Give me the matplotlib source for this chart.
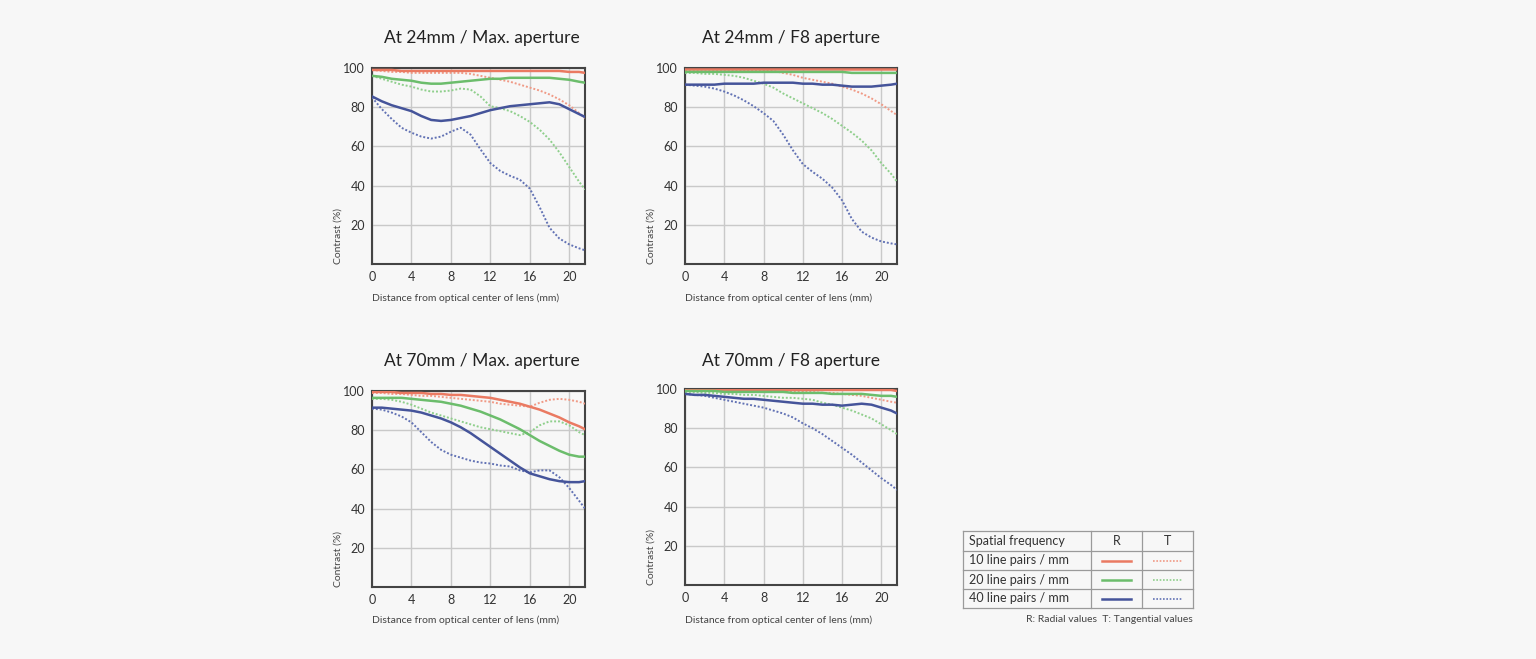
import matplotlib.pyplot as plt

plt.rcParams['font.family'] = ['Lato', 'DejaVu Sans']

W, H = 1536, 659
BG = '#f7f7f7'

# distance from optical center (mm)
dist = [0, 1, 2, 3, 4, 5, 6, 7, 8, 9, 10, 11, 12, 13, 14, 15, 16, 17, 18, 19, 20, 21, 21.6]

# At 24mm / Max. aperture
w24max_r10 = [99, 99, 99, 98.5, 98.5, 98.5, 98.5, 98.5, 98.5, 98.5, 98.5, 98.5, 98.5, 98.5, 98.5, 98.5, 98.5, 98.5, 98.5, 98.5, 98, 98, 97.5]
w24max_t10 = [99, 98.5, 98, 98, 97.5, 97.5, 97.5, 97.5, 97.5, 97.5, 97, 96, 95, 94, 93, 91.5, 90, 88.5, 86.5, 84, 81, 77, 74.5]
w24max_r20 = [96, 95.5, 94.5, 94, 93.5, 92.5, 92, 92, 92.5, 93, 93.5, 94, 94.5, 94.5, 95, 95, 95, 95, 95, 94.5, 94, 93, 92.5]
w24max_t20 = [96, 94.5, 93, 91.5, 90.5, 89, 88, 88, 88.5, 89.5, 89, 85.5, 80.5, 79.5, 78, 75.5, 72.5, 68.5, 63.5, 57, 49.5, 42, 38]
w24max_r40 = [85.5, 83, 81, 79.5, 78, 75.5, 73.5, 73, 73.5, 74.5, 75.5, 77, 78.5, 79.5, 80.5, 81, 81.5, 82, 82.5, 81.5, 79, 76.5, 75]
w24max_t40 = [85, 79, 74, 69.5, 67, 65, 64, 65, 67.5, 69.5, 66, 58.5, 51.5, 47.5, 45, 43, 38.5, 29, 18.5, 13, 10, 8, 7]

# At 24mm / F8 aperture
w24f8_r10 = [99.5] * 23
w24f8_t10 = [99, 99, 99, 99, 99, 99, 99, 99, 99, 98.5, 97.5, 96.5, 95, 94, 93, 92, 90.5, 89, 87, 84.5, 81.5, 78, 76]
w24f8_r20 = [98, 98, 98, 98, 98, 98, 98, 98, 98, 98, 98, 98, 98, 98, 98, 98, 98, 97.5, 97.5, 97.5, 97.5, 97.5, 97.5]
w24f8_t20 = [97.5, 97.5, 97, 97, 96.5, 96, 95, 93.5, 92, 90, 87, 84.5, 82, 79.5, 77, 74, 70.5, 67, 63, 58, 51.5, 46, 42]
w24f8_r40 = [91.5, 91.5, 91.5, 91.5, 92, 92, 92, 92, 92.5, 92.5, 92.5, 92.5, 92, 92, 91.5, 91.5, 91, 90.5, 90.5, 90.5, 91, 91.5, 92]
w24f8_t40 = [91.5, 91, 90.5, 89.5, 88, 86, 83.5, 80.5, 77, 73, 66, 58, 51, 47, 43.5, 39, 32.5, 23, 16.5, 13.5, 11.5, 10.5, 10]

# At 70mm / Max. aperture
t70max_r10 = [99.5, 99.5, 99.5, 99, 99, 99, 98.5, 98.5, 98, 98, 97.5, 97, 96.5, 95.5, 94.5, 93.5, 92, 90.5, 88.5, 86.5, 84, 82, 80.5]
t70max_t10 = [99, 99, 98.5, 98.5, 98, 97.5, 97.5, 97, 96.5, 96, 95.5, 95, 94.5, 93.5, 93, 92.5, 92, 94, 95.5, 96, 95.5, 94.5, 93.5]
t70max_r20 = [96.5, 96.5, 96.5, 96.5, 96, 95.5, 95, 94.5, 93.5, 92.5, 91, 89.5, 87.5, 85.5, 83, 80.5, 77.5, 74.5, 72, 69.5, 67.5, 66.5, 66.5]
t70max_t20 = [96, 96, 95.5, 94.5, 93, 91, 89, 87.5, 86, 84.5, 83, 81.5, 80.5, 79.5, 78.5, 77.5, 79, 82.5, 84.5, 84.5, 82.5, 79, 77.5]
t70max_r40 = [91.5, 91.5, 91, 90.5, 90, 89, 87.5, 86, 84, 81.5, 78.5, 75, 71.5, 68, 64.5, 61, 58, 56.5, 55, 54, 53.5, 53.5, 54]
t70max_t40 = [91, 90.5, 89, 87, 84, 79, 74, 70, 67.5, 66, 64.5, 63.5, 63, 62, 61.5, 59.5, 58.5, 59.5, 59.5, 56, 50.5, 44, 40]

# At 70mm / F8 aperture
t70f8_r10 = [99.5] * 22 + [99]
t70f8_t10 = [99.5, 99.5, 99.5, 99.5, 99.5, 99.5, 99.5, 99, 99, 99, 99, 98.5, 98.5, 98.5, 98, 98, 97.5, 97, 96.5, 95.5, 94.5, 93.5, 93]
t70f8_r20 = [99, 99, 99, 99, 98.5, 98.5, 98.5, 98.5, 98.5, 98.5, 98.5, 98, 98, 98, 98, 97.5, 97.5, 97.5, 97.5, 97, 96.5, 96.5, 96]
t70f8_t20 = [98.5, 98.5, 98, 98, 97.5, 97.5, 97, 97, 96.5, 96, 95.5, 95.5, 95, 94.5, 93, 92, 90.5, 89, 87, 85, 82, 79, 77]
t70f8_r40 = [97.5, 97, 97, 96.5, 96, 95.5, 95, 95, 94.5, 94, 93.5, 93, 92.5, 92.5, 92, 92, 91.5, 92, 92.5, 92, 90.5, 89, 87.5]
t70f8_t40 = [97.5, 97, 96.5, 95.5, 94.5, 93.5, 92.5, 91.5, 90.5, 89, 87.5, 85.5, 82.5, 80, 77, 73.5, 70, 66.5, 62.5, 58.5, 54.5, 51, 48.5]

titles = ['At 24mm / Max. aperture', 'At 24mm / F8 aperture',
          'At 70mm / Max. aperture', 'At 70mm / F8 aperture']
panel_data = [
    [w24max_r10, w24max_t10, w24max_r20, w24max_t20, w24max_r40, w24max_t40],
    [w24f8_r10, w24f8_t10, w24f8_r20, w24f8_t20, w24f8_r40, w24f8_t40],
    [t70max_r10, t70max_t10, t70max_r20, t70max_t20, t70max_r40, t70max_t40],
    [t70f8_r10, t70f8_t10, t70f8_r20, t70f8_t20, t70f8_r40, t70f8_t40],
]
freq_labels = ['10 line pairs / mm', '20 line pairs / mm', '40 line pairs / mm']

# colours: (radial, tangential) for 10 / 20 / 40 lp/mm
colors = [('#ea7a62', '#f09a86'), ('#6cbd6c', '#8fcf8c'), ('#45549a', '#6272b4')]
dotted = (0, (1, 1))

# axes boxes in pixels: left, top, right, bottom
boxes = [(372, 68, 585, 264), (685, 68, 897, 264),
         (372, 391, 585, 587), (685, 389, 897, 585)]
# title centre (x, y) and x-label row in pixels
title_pos = [(482, 38), (791, 38), (482, 361), (791, 361)]
xlabel_y = [298, 298, 620, 620]

fig = plt.figure(figsize=(W / 100, H / 100), dpi=100, facecolor=BG)

for (l, t, r, b), title, series in zip(boxes, titles, panel_data):
    ax = fig.add_axes([l / W, 1 - b / H, (r - l) / W, (b - t) / H])
    ax.set_facecolor('none')
    for i, (c_r, c_t) in enumerate(colors):
        ax.plot(dist, series[2 * i + 1], color=c_t, lw=1.4, ls=dotted, zorder=3)
        ax.plot(dist, series[2 * i], color=c_r, lw=1.8, zorder=4,
                solid_joinstyle='round')
    ax.set_xlim(0, 21.6)
    ax.set_ylim(0, 100)
    ax.set_xticks([0, 4, 8, 12, 16, 20])
    ax.set_yticks([20, 40, 60, 80, 100])
    ax.grid(True, color='#c9c9c9', lw=1)
    ax.tick_params(length=0, labelsize=9, colors='#333333', pad=5)
    for s in ax.spines.values():
        s.set_color('#444444')
        s.set_linewidth(1.5)
    ax.text(-0.16, 0.0, 'Contrast (%)', transform=ax.transAxes, rotation=90,
            ha='center', va='bottom', fontsize=7.5, color='#444444')

# overlay in pixel coordinates for titles, labels and the legend table
lg = fig.add_axes([0, 0, 1, 1], facecolor='none')
lg.set_xlim(0, W)
lg.set_ylim(H, 0)
lg.axis('off')

for (l, t, r, b), title, (tx, ty), xy in zip(boxes, titles, title_pos, xlabel_y):
    lg.text(tx, ty, title, ha='center', va='center', fontsize=12.5, color='#222222')
    lg.text(l, xy, 'Distance from optical center of lens (mm)', ha='left', va='center',
            fontsize=7.5, color='#444444')

cols = [963, 1091, 1142, 1193]
rows = [531, 551, 570, 589, 608]
for y in rows:
    lg.plot([cols[0], cols[-1]], [y, y], color='#9a9a9a', lw=0.9)
for x in cols:
    lg.plot([x, x], [rows[0], rows[-1]], color='#9a9a9a', lw=0.9)
lg.text(969, (rows[0] + rows[1]) / 2, 'Spatial frequency', ha='left', va='center',
        fontsize=9, color='#333333')
lg.text((cols[1] + cols[2]) / 2, (rows[0] + rows[1]) / 2, 'R', ha='center', va='center',
        fontsize=9, color='#333333')
lg.text((cols[2] + cols[3]) / 2, (rows[0] + rows[1]) / 2, 'T', ha='center', va='center',
        fontsize=9, color='#333333')
for i, (lab, (c_r, c_t)) in enumerate(zip(freq_labels, colors)):
    yc = (rows[i + 1] + rows[i + 2]) / 2
    lg.text(969, yc, lab, ha='left', va='center', fontsize=9, color='#333333')
    lg.plot([1102, 1131], [yc, yc], color=c_r, lw=1.8)
    lg.plot([1153, 1182], [yc, yc], color=c_t, lw=1.2, ls=dotted)
lg.text(1193, 620, 'R: Radial values  T: Tangential values', ha='right', va='center',
        fontsize=7.5, color='#444444')

fig.savefig('out.png', dpi=100, facecolor=BG)
